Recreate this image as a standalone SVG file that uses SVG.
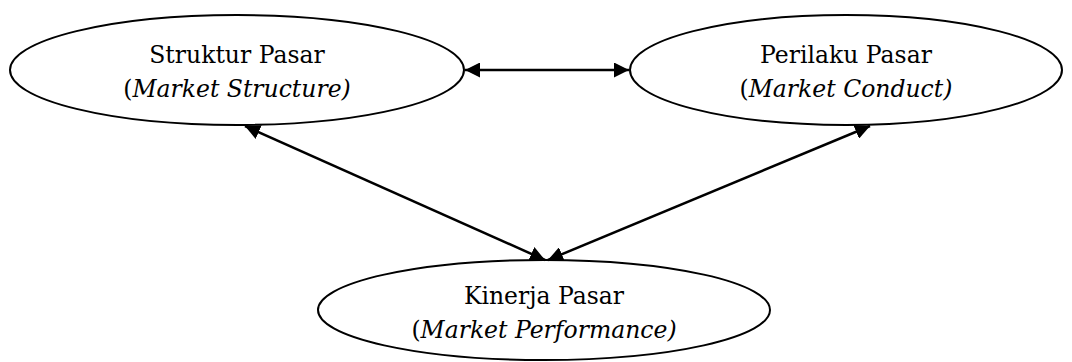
<svg xmlns="http://www.w3.org/2000/svg" width="1072" height="362" viewBox="0 0 1072 362">
<style>
.node ellipse{fill:#fff;stroke:#000;stroke-width:2}
.t{font-family:"DejaVu Serif","Liberation Serif",serif;font-size:23.5px;text-anchor:middle;fill:#000}
.i{font-style:italic}
.conn line{stroke:#000;stroke-width:2.5;fill:none}
</style>
<defs>
<marker id="ah" viewBox="0 0 10 10" refX="10" refY="5" markerWidth="6" markerHeight="6" markerUnits="strokeWidth" orient="auto-start-reverse">
<path d="M0,0 L10,5 L0,10 z" fill="#000"/>
</marker>
</defs>
<g id="n-struktur" class="node">
<ellipse cx="237" cy="70" rx="227" ry="55"/>
<text class="t" x="237" y="63">Struktur Pasar</text>
<text class="t" x="237" y="97">(<tspan class="i">Market Structure)</tspan></text>
</g>
<g id="n-perilaku" class="node">
<ellipse cx="846" cy="70" rx="216" ry="55"/>
<text class="t" x="846" y="63">Perilaku Pasar</text>
<text class="t" x="846" y="97">(<tspan class="i">Market Conduct)</tspan></text>
</g>
<g id="n-kinerja" class="node">
<ellipse cx="544" cy="310" rx="226" ry="50"/>
<text class="t" x="544" y="304">Kinerja Pasar</text>
<text class="t" x="544" y="338">(<tspan class="i">Market Performance)</tspan></text>
</g>
<g id="connectors" class="conn">
<line x1="465" y1="70" x2="629" y2="70" marker-start="url(#ah)" marker-end="url(#ah)"/>
<line x1="245" y1="126" x2="545" y2="260" marker-start="url(#ah)" marker-end="url(#ah)"/>
<line x1="870" y1="126" x2="548" y2="260" marker-start="url(#ah)" marker-end="url(#ah)"/>
</g>
</svg>
